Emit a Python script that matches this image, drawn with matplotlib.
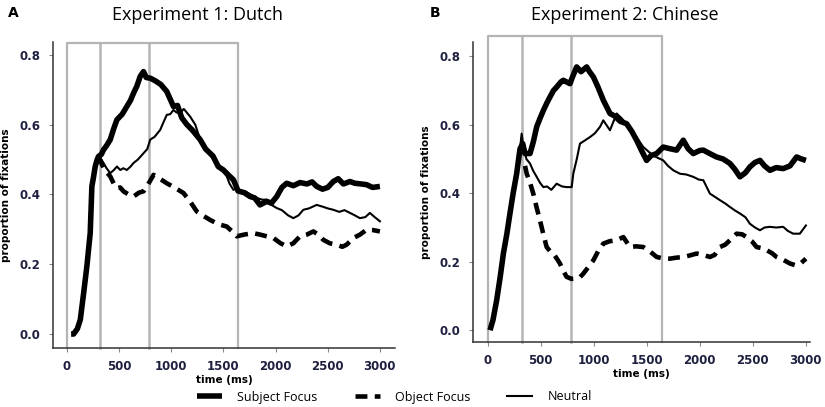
import matplotlib.pyplot as plt
from matplotlib.lines import Line2D

# ---- Experiment 1: Dutch (time in ms, proportion of fixations)
a_subj_t = [40, 64, 100, 128, 160, 191, 223, 239, 255, 271, 290, 303, 330, 351, 380, 415, 450, 479, 530, 574, 610, 638, 670, 702, 734, 760,
            800, 850, 900, 957, 1021, 1060, 1100, 1150, 1200, 1277, 1330, 1400, 1450, 1500, 1550, 1596, 1640, 1700, 1755, 1800, 1850,
            1915, 1960, 2011, 2060, 2106, 2170, 2234, 2300, 2350, 2394, 2450, 2500, 2553, 2600, 2650, 2713, 2760, 2820, 2872, 2930, 3000]
a_subj_v = [0.0, 0.0, 0.015, 0.041, 0.117, 0.194, 0.289, 0.423, 0.45, 0.48, 0.50, 0.509, 0.515, 0.528, 0.54, 0.557, 0.59, 0.614, 0.63, 0.652, 0.67, 0.69, 0.71, 0.738, 0.752, 0.735,
            0.733, 0.725, 0.715, 0.695, 0.652, 0.655, 0.62, 0.60, 0.585, 0.557, 0.53, 0.51, 0.48, 0.47, 0.455, 0.442, 0.41, 0.405, 0.394, 0.39, 0.37,
            0.38, 0.375, 0.394, 0.42, 0.432, 0.425, 0.434, 0.43, 0.436, 0.423, 0.415, 0.42, 0.437, 0.445, 0.43, 0.437, 0.432, 0.43, 0.428, 0.42, 0.423]

a_neut_t = [303, 330, 351, 380, 415, 450, 479, 511, 540, 574, 610, 638, 680, 734, 770, 798, 840, 894, 930, 957, 990, 1021, 1050, 1085,
            1120, 1181, 1230, 1277, 1330, 1404, 1460, 1532, 1560, 1596, 1630, 1660, 1700, 1760, 1820, 1870, 1915, 1960, 2011, 2060,
            2120, 2170, 2220, 2266, 2320, 2394, 2450, 2500, 2553, 2610, 2660, 2713, 2760, 2808, 2860, 2904, 2950, 3000]
a_neut_v = [0.509, 0.50, 0.49, 0.475, 0.461, 0.47, 0.48, 0.47, 0.475, 0.47, 0.48, 0.49, 0.50, 0.518, 0.53, 0.557, 0.565, 0.585, 0.61, 0.628, 0.63, 0.642, 0.635, 0.633,
            0.645, 0.623, 0.60, 0.557, 0.53, 0.50, 0.48, 0.452, 0.43, 0.413, 0.42, 0.409, 0.41, 0.40, 0.39, 0.385, 0.385, 0.37, 0.361, 0.355,
            0.34, 0.332, 0.34, 0.356, 0.36, 0.370, 0.365, 0.36, 0.356, 0.35, 0.355, 0.347, 0.34, 0.332, 0.335, 0.347, 0.335, 0.323]

a_obj_t = [303, 330, 360, 415, 450, 479, 510, 542, 590, 638, 690, 734, 780, 830, 890, 957, 1030, 1117, 1180, 1245, 1300, 1372, 1450, 1532,
           1580, 1628, 1700, 1787, 1850, 1915, 1980, 2043, 2106, 2170, 2234, 2300, 2362, 2410, 2457, 2520, 2585, 2640, 2681, 2745, 2810, 2872, 2930, 3000]
a_obj_v = [0.509, 0.49, 0.47, 0.452, 0.43, 0.418, 0.42, 0.409, 0.40, 0.394, 0.405, 0.409, 0.43, 0.456, 0.445, 0.432, 0.42, 0.404, 0.38, 0.351, 0.34, 0.327, 0.315, 0.308,
           0.295, 0.28, 0.285, 0.289, 0.285, 0.28, 0.275, 0.261, 0.251, 0.26, 0.28, 0.285, 0.294, 0.285, 0.27, 0.26, 0.256, 0.25, 0.256, 0.275, 0.285, 0.299, 0.298, 0.294]

# ---- Experiment 2: Chinese
b_subj_t = [22, 50, 85, 120, 148, 180, 210, 240, 273, 305, 330, 352, 399, 430, 462, 495, 525, 560, 587, 620, 650, 690, 713, 776, 800,
            839, 880, 933, 960, 996, 1040, 1090, 1153, 1200, 1250, 1310, 1360, 1404, 1450, 1498, 1540, 1593, 1655, 1720, 1781, 1844,
            1890, 1938, 2000, 2033, 2100, 2158, 2220, 2284, 2330, 2378, 2430, 2472, 2520, 2567, 2610, 2661, 2720, 2786, 2850, 2912, 2960, 3000]
b_subj_v = [0.0, 0.03, 0.088, 0.16, 0.224, 0.28, 0.341, 0.40, 0.457, 0.53, 0.545, 0.516, 0.516, 0.55, 0.594, 0.62, 0.642, 0.665, 0.681, 0.70, 0.71, 0.725, 0.73, 0.72, 0.74,
            0.769, 0.755, 0.769, 0.755, 0.74, 0.71, 0.672, 0.633, 0.625, 0.61, 0.603, 0.58, 0.555, 0.525, 0.496, 0.51, 0.516, 0.535, 0.53, 0.526, 0.555,
            0.53, 0.516, 0.525, 0.526, 0.515, 0.506, 0.50, 0.487, 0.47, 0.448, 0.46, 0.477, 0.49, 0.496, 0.48, 0.467, 0.475, 0.472, 0.48, 0.506, 0.50, 0.496]

b_neut_t = [305, 320, 340, 365, 399, 430, 462, 495, 525, 560, 600, 650, 700, 744, 792, 807, 840, 870, 920, 964, 1010, 1059, 1090, 1153,
            1216, 1260, 1310, 1390, 1467, 1560, 1655, 1700, 1750, 1813, 1870, 1938, 1990, 2033, 2095, 2140, 2189, 2240, 2284, 2330,
            2378, 2430, 2472, 2520, 2567, 2610, 2661, 2720, 2786, 2830, 2880, 2943, 3000]
b_neut_v = [0.53, 0.574, 0.53, 0.50, 0.487, 0.465, 0.448, 0.43, 0.418, 0.42, 0.41, 0.428, 0.42, 0.418, 0.418, 0.457, 0.50, 0.545, 0.555, 0.564, 0.575, 0.594, 0.613, 0.584,
            0.633, 0.62, 0.603, 0.57, 0.535, 0.51, 0.496, 0.48, 0.467, 0.457, 0.455, 0.448, 0.44, 0.438, 0.399, 0.39, 0.38, 0.37, 0.36, 0.35,
            0.341, 0.33, 0.311, 0.30, 0.292, 0.30, 0.302, 0.30, 0.302, 0.29, 0.282, 0.282, 0.306]

b_obj_t = [352, 368, 400, 430, 460, 493, 525, 556, 590, 619, 650, 681, 710, 744, 790, 839, 870, 901, 950, 996, 1040, 1090, 1150, 1216,
           1279, 1341, 1400, 1467, 1530, 1593, 1650, 1718, 1780, 1844, 1900, 1970, 2030, 2095, 2140, 2189, 2240, 2284, 2347, 2400,
           2441, 2490, 2535, 2580, 2629, 2680, 2723, 2790, 2849, 2900, 2950, 3000]
b_obj_v = [0.48, 0.457, 0.43, 0.399, 0.36, 0.321, 0.28, 0.243, 0.23, 0.224, 0.21, 0.195, 0.175, 0.156, 0.15, 0.151, 0.155, 0.165, 0.185, 0.204, 0.23, 0.253, 0.26, 0.263,
           0.272, 0.243, 0.245, 0.243, 0.23, 0.214, 0.21, 0.209, 0.212, 0.214, 0.218, 0.224, 0.22, 0.214, 0.22, 0.243, 0.25, 0.263, 0.282, 0.28,
           0.272, 0.26, 0.243, 0.24, 0.234, 0.225, 0.214, 0.205, 0.195, 0.19, 0.195, 0.209]

a_windows = [320, 785]
b_windows = [323, 785]
box_end = 1640

xticks = [0, 500, 1000, 1500, 2000, 2500, 3000]
yticks = [0.0, 0.2, 0.4, 0.6, 0.8]

fig = plt.figure(figsize=(8.25, 4.07), dpi=100)
axA = fig.add_axes([0.0642, 0.145, 0.4145, 0.752])
axB = fig.add_axes([0.573, 0.160, 0.409, 0.737])

thick = dict(color='black', lw=4.0, solid_capstyle='butt')
dash = dict(color='black', lw=3.3, linestyle=(0, (2.6, 1.6)))
thin = dict(color='black', lw=1.5)
gray = '#b4b4b4'


def panel(ax, st, sv, nt, nv, ot, ov, wins, xlim, ylim, box_top):
    ax.plot(st, sv, **thick, zorder=3)
    ax.plot(ot, ov, **dash, zorder=3)
    ax.plot(nt, nv, **thin, zorder=4)
    ax.set_xlim(*xlim)
    ax.set_ylim(*ylim)
    # analysis windows
    ax.plot([0, 0, box_end, box_end], [ylim[0], box_top, box_top, ylim[0]],
            color=gray, lw=1.6, clip_on=False, zorder=2)
    for w in wins:
        ax.plot([w, w], [ylim[0], box_top], color=gray, lw=1.8, clip_on=False, zorder=2)
    for s in ['top', 'right']:
        ax.spines[s].set_visible(False)
    for s in ['left', 'bottom']:
        ax.spines[s].set_color('#333333')
        ax.spines[s].set_linewidth(1.1)
    ax.set_xticks(xticks)
    ax.set_yticks(yticks)
    ax.set_yticklabels(['%.1f' % v for v in yticks])
    ax.tick_params(axis='both', labelsize=8.5, colors='#888888', labelcolor='#1e2040',
                   length=3, width=0.8, pad=6)
    for lab in ax.get_xticklabels() + ax.get_yticklabels():
        lab.set_fontweight('bold')
    ax.set_xlabel('time (ms)', fontsize=7.5, fontweight='bold', labelpad=1)
    ax.set_ylabel('proportion of fixations', fontsize=7.5, fontweight='bold', labelpad=6)


panel(axA, a_subj_t, a_subj_v, a_neut_t, a_neut_v, a_obj_t, a_obj_v, a_windows,
      (-134, 3144), (-0.040, 0.837), 0.834)
panel(axB, b_subj_t, b_subj_v, b_neut_t, b_neut_v, b_obj_t, b_obj_v, b_windows,
      (-141, 3040), (-0.034, 0.842), 0.859)

fig.text(197 / 825, 1 - 15 / 407, 'Experiment 1: Dutch', ha='center', va='center',
         fontsize=13, family='Open Sans')
fig.text(625 / 825, 1 - 15 / 407, 'Experiment 2: Chinese', ha='center', va='center',
         fontsize=13, family='Open Sans')
fig.text(8 / 825, 1 - 13 / 407, 'A', fontsize=10, fontweight='bold', va='center')
fig.text(430 / 825, 1 - 13 / 407, 'B', fontsize=10, fontweight='bold', va='center')

handles = [Line2D([], [], **thick), Line2D([], [], **dash), Line2D([], [], **thin)]
fig.legend(handles, ['Subject Focus', 'Object Focus', 'Neutral'], loc='center',
           bbox_to_anchor=(0.478, 1 - 397 / 407), ncol=3, frameon=False,
           prop={'family': 'Open Sans', 'size': 9}, handlelength=2.0,
           columnspacing=3.0, handletextpad=1.2)

fig.savefig('out.png', dpi=100)
